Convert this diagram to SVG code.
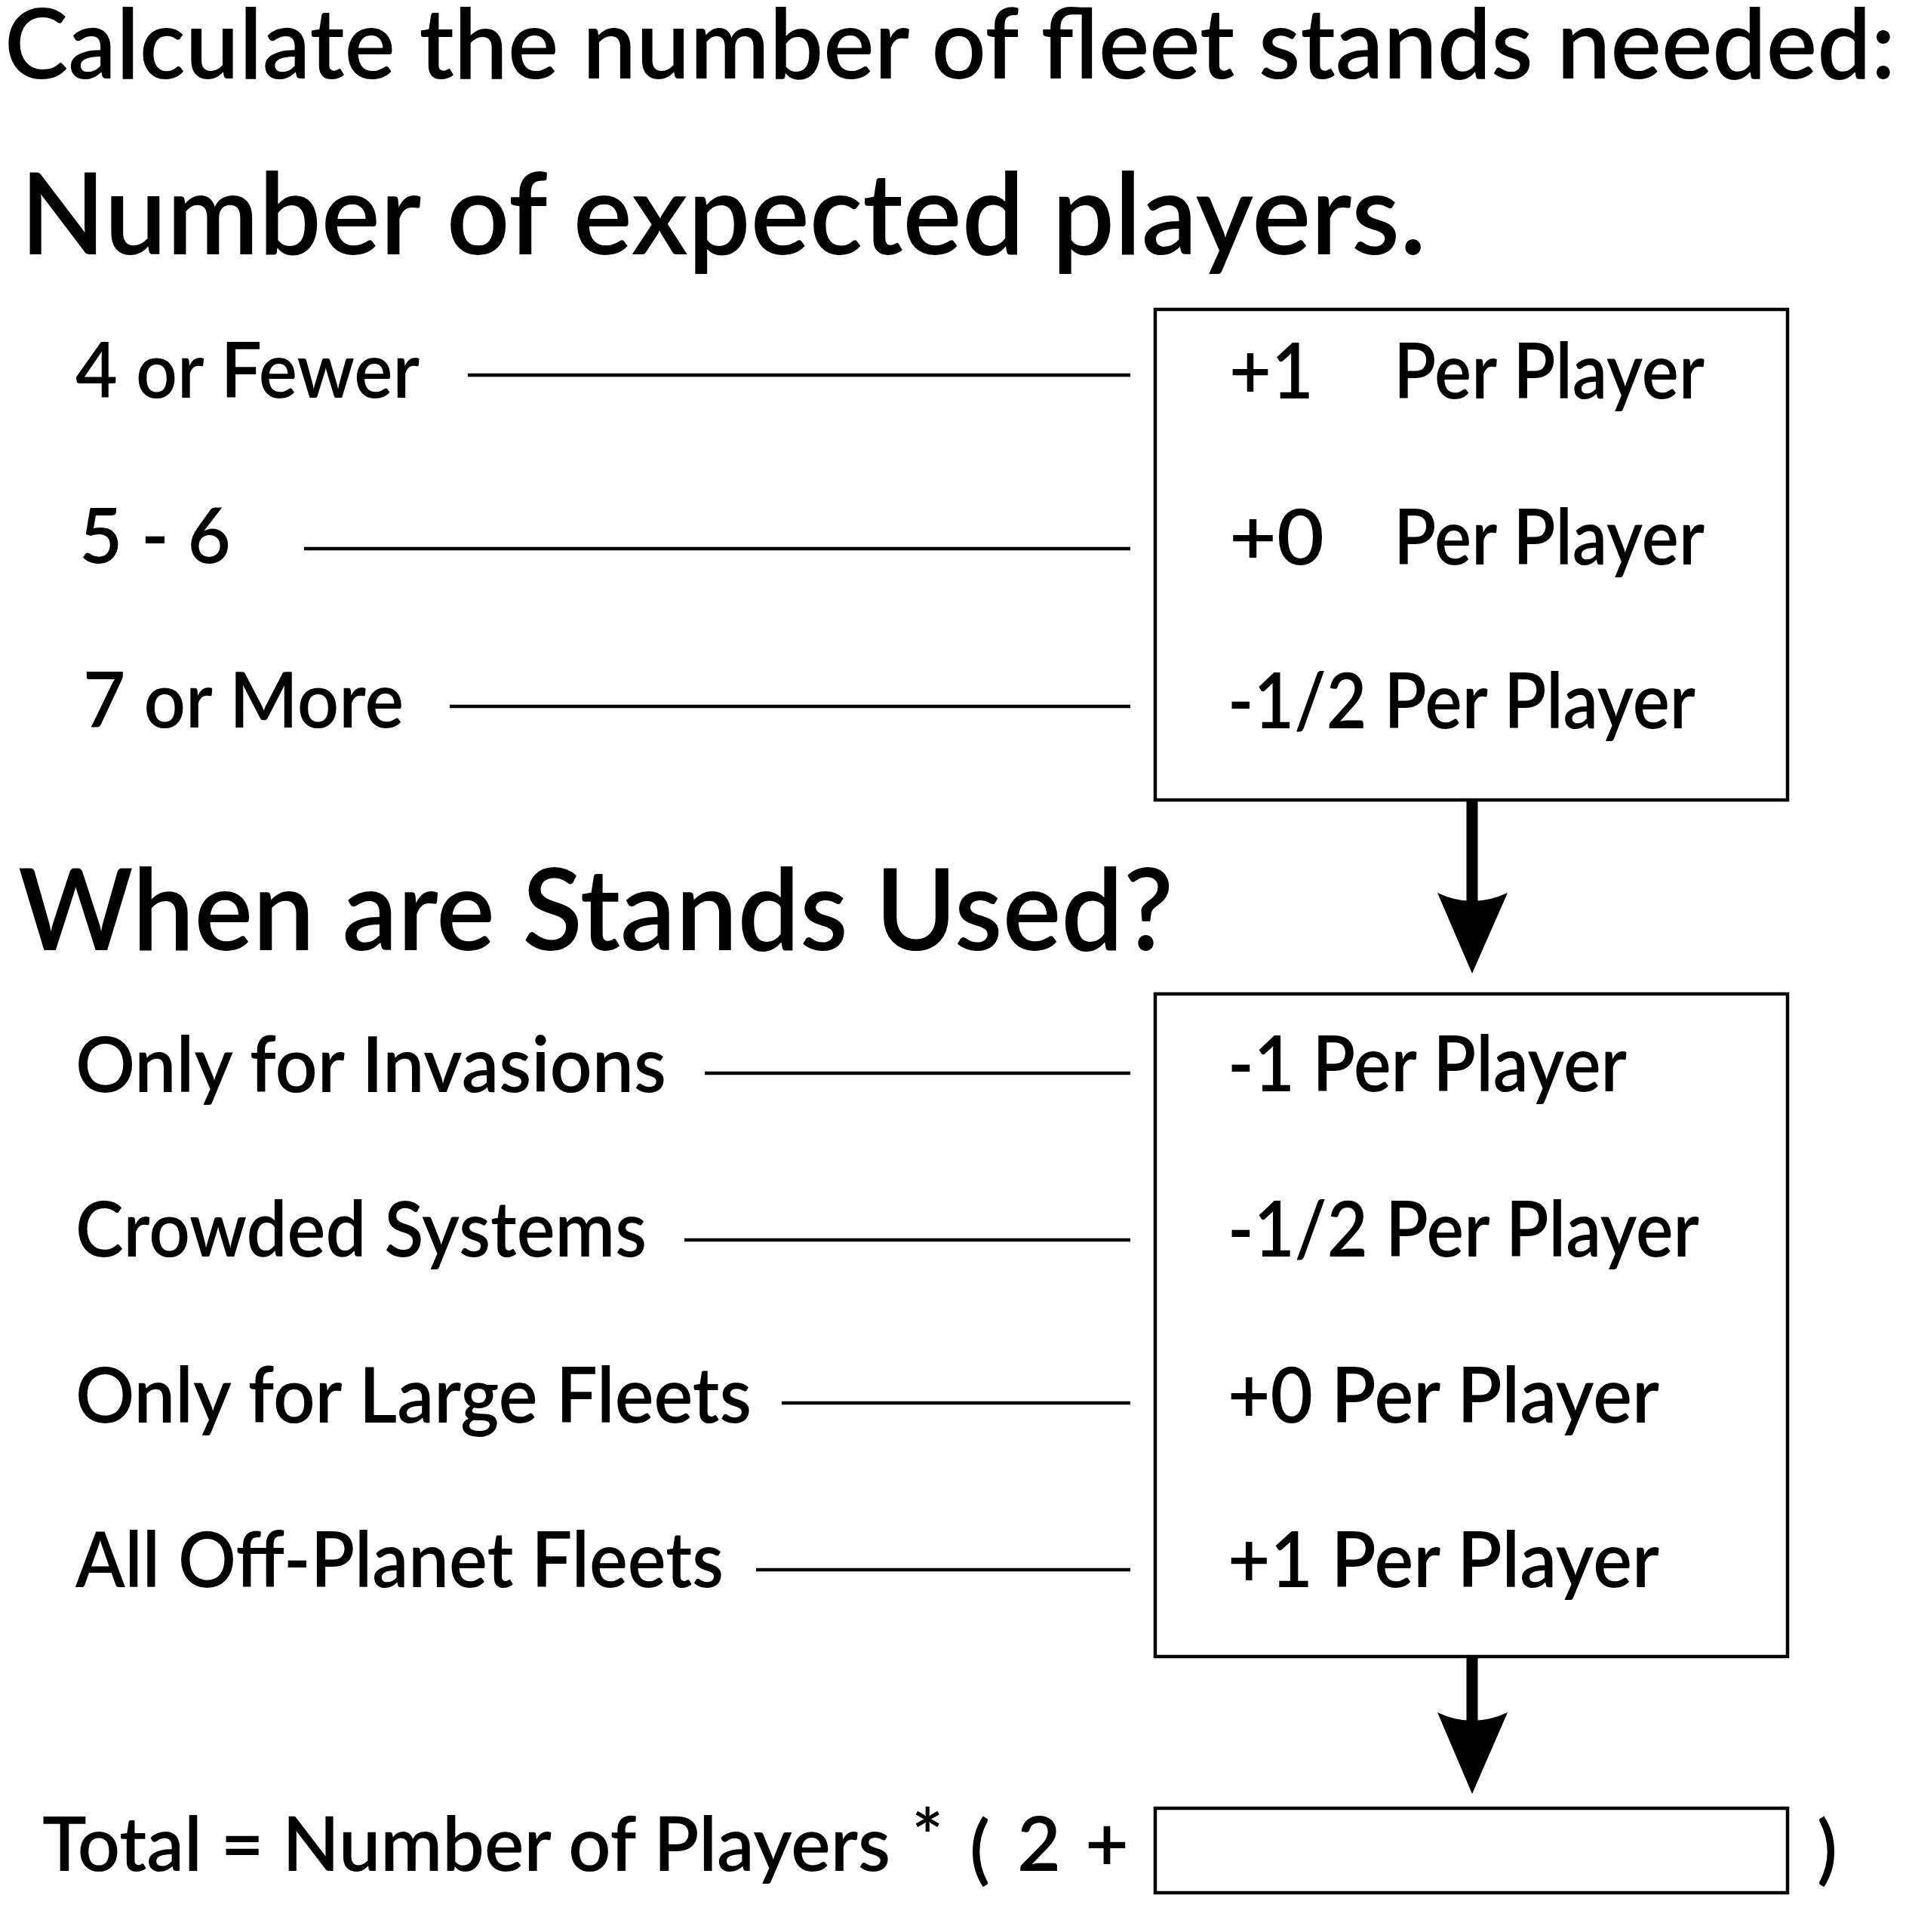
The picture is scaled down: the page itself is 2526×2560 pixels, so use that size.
<svg xmlns="http://www.w3.org/2000/svg" width="2526" height="2560" viewBox="0 0 2526 2560">
<style>
text{font-family:"Lato","Open Sans","Liberation Sans",sans-serif;fill:#000;font-weight:600}
.t{font-size:130px}
.h{font-size:150px}
.b{font-size:102px}
.box{fill:none;stroke:#000;stroke-width:4.5}
.ln{stroke:#000;stroke-width:4.5;fill:none}
.shaft{stroke:#000;stroke-width:15;fill:none}
.head{fill:#000;stroke:none}
</style>
<rect x="0" y="0" width="2526" height="2560" fill="#fff"/>
<g id="title">
<text class="t" x="6" y="104" textLength="2506" lengthAdjust="spacingAndGlyphs">Calculate the number of fleet stands needed:</text>
</g>
<g id="heading-players">
<text class="h" x="27" y="337" textLength="1863" lengthAdjust="spacingAndGlyphs">Number of expected players.</text>
</g>
<g id="players-options">
<text class="b" x="100" y="527" textLength="456" lengthAdjust="spacingAndGlyphs">4 or Fewer</text>
<text class="b" x="105" y="746" textLength="201" lengthAdjust="spacingAndGlyphs">5 - 6</text>
<text class="b" x="110" y="964" textLength="425" lengthAdjust="spacingAndGlyphs">7 or More</text>
</g>
<g id="players-box">
<rect class="box" x="1531" y="410" width="838" height="650"/>
<text class="b" x="1629" y="528" textLength="112" lengthAdjust="spacingAndGlyphs">+1</text>
<text class="b" x="1847" y="528" textLength="412" lengthAdjust="spacingAndGlyphs">Per Player</text>
<text class="b" x="1629" y="748" textLength="126" lengthAdjust="spacingAndGlyphs">+0</text>
<text class="b" x="1847" y="748" textLength="412" lengthAdjust="spacingAndGlyphs">Per Player</text>
<text class="b" x="1627" y="965" textLength="620" lengthAdjust="spacingAndGlyphs">-1/2 Per Player</text>
</g>
<g id="heading-stands">
<text class="h" x="24" y="1259" textLength="1531" lengthAdjust="spacingAndGlyphs">When are Stands Used?</text>
</g>
<g id="stands-options">
<text class="b" x="100" y="1447" textLength="783" lengthAdjust="spacingAndGlyphs">Only for Invasions</text>
<text class="b" x="100" y="1665" textLength="757" lengthAdjust="spacingAndGlyphs">Crowded Systems</text>
<text class="b" x="100" y="1885" textLength="896" lengthAdjust="spacingAndGlyphs">Only for Large Fleets</text>
<text class="b" x="100" y="2103" textLength="859" lengthAdjust="spacingAndGlyphs">All Off-Planet Fleets</text>
</g>
<g id="stands-box">
<rect class="box" x="1531" y="1317" width="838" height="878"/>
<text class="b" x="1627" y="1446" textLength="529" lengthAdjust="spacingAndGlyphs">-1 Per Player</text>
<text class="b" x="1627" y="1665" textLength="625" lengthAdjust="spacingAndGlyphs">-1/2 Per Player</text>
<text class="b" x="1627" y="1885" textLength="572" lengthAdjust="spacingAndGlyphs">+0 Per Player</text>
<text class="b" x="1627" y="2103" textLength="572" lengthAdjust="spacingAndGlyphs">+1 Per Player</text>
</g>
<g id="total">
<text class="b" style="font-size:100px" x="56" y="2479" textLength="1124" lengthAdjust="spacingAndGlyphs">Total = Number of Players</text>
<text class="b" style="font-size:100px" x="1208" y="2470">*</text>
<text class="b" style="font-size:100px" x="1285" y="2485">(</text>
<text class="b" style="font-size:100px" x="1348" y="2479">2</text>
<text class="b" style="font-size:100px" x="1438" y="2479">+</text>
<rect class="box" x="1531" y="2396" width="838" height="112"/>
<text class="b" style="font-size:100px" x="2408" y="2485">)</text>
</g>
<g id="connectors">
<line class="ln" x1="620" y1="497" x2="1498" y2="497"/>
<line class="ln" x1="403" y1="727" x2="1498" y2="727"/>
<line class="ln" x1="596" y1="936" x2="1498" y2="936"/>
<line class="ln" x1="934" y1="1422" x2="1498" y2="1422"/>
<line class="ln" x1="907" y1="1643" x2="1498" y2="1643"/>
<line class="ln" x1="1036" y1="1859" x2="1498" y2="1859"/>
<line class="ln" x1="1002" y1="2080" x2="1498" y2="2080"/>
<line class="shaft" x1="1951" y1="1062" x2="1951" y2="1200"/>
<path class="head" d="M1905,1183 Q1951,1205 1998,1183 L1951,1290 Z"/>
<line class="shaft" x1="1951" y1="2197" x2="1951" y2="2286"/>
<path class="head" d="M1905,2269 Q1951,2291 1998,2269 L1951,2377 Z"/>
</g>
</svg>
